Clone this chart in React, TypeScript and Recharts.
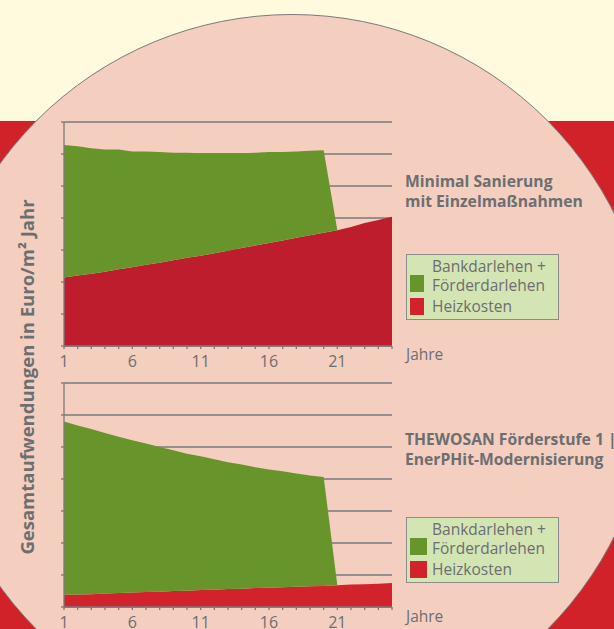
import React from 'react';
import { AreaChart, Area, XAxis, YAxis, CartesianGrid } from 'recharts';

const years = [1, 2, 3, 4, 5, 6, 7, 8, 9, 10, 11, 12, 13, 14, 15, 16, 17, 18, 19, 20, 21, 22, 23, 24, 25];

// Top chart: Minimal Sanierung mit Einzelmaßnahmen
const topHeating = [10.7, 11.0, 11.3, 11.6, 12.0, 12.3, 12.7, 13.0, 13.4, 13.8, 14.1, 14.5, 14.9, 15.3, 15.7, 16.1, 16.5, 16.9, 17.3, 17.7, 18.1, 18.6, 19.2, 19.7, 20.2];
const topLoans = [20.7, 20.2, 19.6, 19.1, 18.7, 18.1, 17.7, 17.3, 16.8, 16.4, 16.0, 15.6, 15.2, 14.8, 14.5, 14.2, 13.8, 13.5, 13.2, 12.9, 0, 0, 0, 0, 0];

// Bottom chart: THEWOSAN Förderstufe 1 | EnerPHit-Modernisierung
const bottomHeating = [1.9, 1.95, 2.0, 2.1, 2.2, 2.25, 2.35, 2.4, 2.5, 2.55, 2.65, 2.7, 2.8, 2.85, 2.95, 3.0, 3.1, 3.15, 3.25, 3.3, 3.4, 3.5, 3.55, 3.65, 3.75];
const bottomLoans = [27.1, 26.4, 25.8, 25.1, 24.4, 23.8, 23.2, 22.6, 22.0, 21.4, 20.9, 20.4, 19.8, 19.4, 18.9, 18.5, 18.1, 17.7, 17.3, 17.0, 0, 0, 0, 0, 0];

const xTicks = years;
const xLabelTicks = [1, 6, 11, 16, 21];
const yTicks = [0, 5, 10, 15, 20, 25, 30, 35];

const legendLoan = ['Bankdarlehen +', 'Förderdarlehen'];
const legendHeat = 'Heizkosten';
const xAxisTitle = 'Jahre';
const yAxisTitle = 'Gesamtaufwendungen in Euro/m² Jahr';
const topTitle = ['Minimal Sanierung', 'mit Einzelmaßnahmen'];
const bottomTitle = ['THEWOSAN Förderstufe 1 |', 'EnerPHit-Modernisierung'];

const FONT = '"Open Sans", "Noto Sans", sans-serif';
const GRAY = '#6D6E71';
const AXIS = '#7A7A7A';
const GREEN = '#67952C';
const RED_TOP = '#BD1D2D';
const RED_BOTTOM = '#D2232C';

const topData = years.map((y, i) => ({ year: y, heat: topHeating[i], loan: topLoans[i] }));
const bottomData = years.map((y, i) => ({ year: y, heat: bottomHeating[i], loan: bottomLoans[i] }));

function Panel({ data, red, top }: { data: any[]; red: string; top: number }) {
  return (
    <div style={{ position: 'absolute', left: 0, top }}>
      <AreaChart width={410} height={266} data={data} margin={{ top: 12, right: 18, left: 0, bottom: 0 }}>
        <CartesianGrid vertical={false} stroke={AXIS} strokeWidth={1.3} />
        <XAxis
          dataKey="year"
          type="number"
          domain={[1, 25]}
          ticks={xTicks}
          interval={0}
          height={30}
          tickSize={3}
          tickMargin={7}
          stroke={AXIS}
          strokeWidth={1.3}
          tick={{ fill: GRAY, fontSize: 16, fontFamily: FONT }}
          tickFormatter={(v: number) => (xLabelTicks.includes(v) ? String(v) : '')}
        />
        <YAxis
          type="number"
          domain={[0, 35]}
          ticks={yTicks}
          interval={0}
          width={64}
          tickSize={3}
          stroke={AXIS}
          strokeWidth={1.3}
          tickFormatter={() => ''}
        />
        <Area dataKey="heat" stackId="a" type="linear" fill={red} fillOpacity={1} stroke="none" isAnimationActive={false} dot={false} activeDot={false} />
        <Area dataKey="loan" stackId="a" type="linear" fill={GREEN} fillOpacity={1} stroke="none" isAnimationActive={false} dot={false} activeDot={false} />
      </AreaChart>
    </div>
  );
}

const lineStyle: React.CSSProperties = {
  position: 'absolute',
  left: 25,
  height: 19,
  lineHeight: '19px',
  whiteSpace: 'nowrap',
};

function LegendBox({ top, red, sq }: { top: number; red: string; sq: number }) {
  return (
    <div
      style={{
        position: 'absolute',
        left: 406,
        top,
        width: 153,
        height: 66,
        boxSizing: 'border-box',
        background: '#D3E5B3',
        border: '1.3px solid #8C8C8C',
        fontFamily: FONT,
        fontSize: 15.5,
        color: GRAY,
      }}
    >
      <div style={{ position: 'absolute', left: 3, top: 20, width: sq, height: 16.5, background: GREEN }} />
      <div style={{ position: 'absolute', left: 3, top: 43, width: sq, height: 16.5, background: red }} />
      <div style={{ ...lineStyle, top: 2 }}>{legendLoan[0]}</div>
      <div style={{ ...lineStyle, top: 21 }}>{legendLoan[1]}</div>
      <div style={{ ...lineStyle, top: 42 }}>{legendHeat}</div>
    </div>
  );
}

function Title({ lines, top }: { lines: string[]; top: number }) {
  const s: React.CSSProperties = {
    position: 'absolute',
    left: 405,
    fontFamily: FONT,
    fontWeight: 700,
    fontSize: 15.7,
    height: 20,
    lineHeight: '20px',
    color: GRAY,
    whiteSpace: 'nowrap',
  };
  return (
    <>
      <div style={{ ...s, top }}>{lines[0]}</div>
      <div style={{ ...s, top: top + 20.3 }}>{lines[1]}</div>
    </>
  );
}

export default function App() {
  return (
    <div style={{ position: 'fixed', left: 0, top: 0, width: 614, height: 629, overflow: 'hidden', background: '#FFF9DD' }}>
      <div style={{ position: 'absolute', left: 0, top: 121, width: 614, height: 520, background: '#D12229' }} />
      <div
        style={{
          position: 'absolute',
          left: 292 - 361,
          top: 14,
          width: 722,
          height: 722,
          borderRadius: '50%',
          boxSizing: 'border-box',
          background: '#F4CEBF',
          border: '1.3px solid #7A7A7A',
        }}
      />
      <Panel data={topData} red={RED_TOP} top={110} />
      <Panel data={bottomData} red={RED_BOTTOM} top={371} />

      <Title lines={topTitle} top={170.6} />
      <Title lines={bottomTitle} top={429} />
      <LegendBox top={254} red={RED_BOTTOM} sq={14} />
      <LegendBox top={517} red={RED_BOTTOM} sq={16.5} />

      <div style={{ position: 'absolute', left: 406, top: 343, fontFamily: FONT, fontSize: 15.5, color: GRAY }}>{xAxisTitle}</div>
      <div style={{ position: 'absolute', left: 406, top: 605, fontFamily: FONT, fontSize: 15.5, color: GRAY }}>{xAxisTitle}</div>

      <svg width={44} height={629} style={{ position: 'absolute', left: 0, top: 0 }}>
        <text
          transform="rotate(-90)"
          x={-377}
          y={33.5}
          textAnchor="middle"
          fontFamily={FONT}
          fontWeight={700}
          fontSize={18.5}
          fill={GRAY}
        >
          {yAxisTitle}
        </text>
      </svg>
    </div>
  );
}
